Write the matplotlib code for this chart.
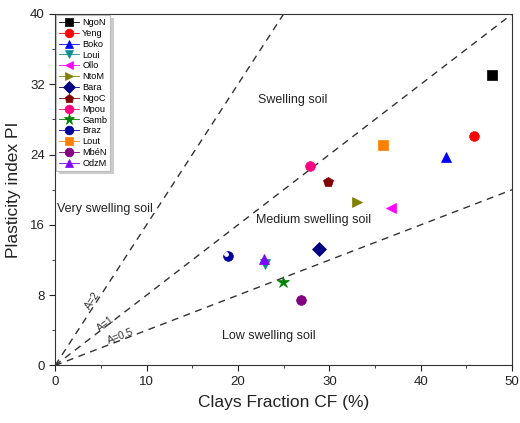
import matplotlib.pyplot as plt
from matplotlib.ticker import MultipleLocator

plt.rcParams['font.family'] = ['Liberation Sans', 'DejaVu Sans']

# soil samples: clay fraction (%) and plasticity index
names = ['NgoN', 'Yeng', 'Boko', 'Loui', 'Ollo', 'NtoM', 'Bara',
         'NgoC', 'Mpou', 'Gamb', 'Braz', 'Lout', 'MbéN', 'OdzM']
cf = [47.8, 45.8, 42.8, 23.0, 36.7, 33.0, 28.9, 29.9, 27.9, 24.9, 18.9, 35.9, 26.9, 22.9]
pi = [33.0, 26.1, 23.7, 11.5, 17.9, 18.6, 13.3, 20.9, 22.7, 9.5, 12.5, 25.1, 7.5, 12.1]
markers = ['s', 'o', '^', 'v', '<', '>', 'D', 'p', 'o', '*', 'o', 's', 'o', '^']
colors = ['black', 'red', 'blue', '#0f8f8f', '#ff00ff', '#808000', '#000080',
          '#800000', '#ff0080', '#008000', '#0000a0', '#ff8000', '#800080', '#8000ff']

# activity boundaries A = PI / CF (plotted ends)
act_x = [[0, 25], [0, 50], [0, 50]]
act_y = [[0, 40], [0, 40], [0, 20]]
act_lbl = ['A=2', 'A=1', 'A=0.5']

fig = plt.figure(figsize=(5.2, 4.23), dpi=100)
ax = fig.add_axes([0.106, 0.136, 0.879, 0.831])

for xs, ys in zip(act_x, act_y):
    ax.plot(xs, ys, color='#333333', linestyle=(0, (5, 4)), linewidth=1.0)

for n, x, y, m, c in zip(names, cf, pi, markers, colors):
    ms = 9 if m == '*' else 7
    ax.plot([x], [y], marker=m, color=c, markersize=ms, linewidth=0.6,
            markeredgewidth=0.5, label=n)
    if n == 'Braz':
        ax.plot([x - 0.2], [y + 0.2], marker='o', color='white', markersize=2.5)

# region and line labels
ax.text(26, 30.2, 'Swelling soil', fontsize=9, color='#222222', ha='center', va='center')
ax.text(28.3, 16.6, 'Medium swelling soil', fontsize=9, color='#222222', ha='center', va='center')
ax.text(23.4, 3.4, 'Low swelling soil', fontsize=9, color='#222222', ha='center', va='center')
ax.text(5.4, 17.8, 'Very swelling soil', fontsize=9, color='#222222', ha='center', va='center')
ax.text(4.1, 7.4, act_lbl[0], fontsize=7.5, color='#333333', rotation=57, ha='center', va='center')
ax.text(5.5, 4.7, act_lbl[1], fontsize=7.5, color='#333333', rotation=37, ha='center', va='center')
ax.text(7.2, 3.3, act_lbl[2], fontsize=7.5, color='#333333', rotation=21, ha='center', va='center')

ax.set_xlim(0, 50)
ax.set_ylim(0, 40)
ax.xaxis.set_major_locator(MultipleLocator(10))
ax.xaxis.set_minor_locator(MultipleLocator(5))
ax.yaxis.set_major_locator(MultipleLocator(8))
ax.yaxis.set_minor_locator(MultipleLocator(4))
ax.tick_params(which='both', direction='out', labelsize=9.5, colors='#222222')
ax.tick_params(which='major', length=4)
ax.tick_params(which='minor', length=2.5)
for s in ax.spines.values():
    s.set_color('#333333')
ax.set_xlabel('Clays Fraction CF (%)', fontsize=12.5, color='#222222', labelpad=5)
ax.set_ylabel('Plasticity index PI', fontsize=12.5, color='#222222', labelpad=6)

leg = ax.legend(loc='upper left', fontsize=6.6, handlelength=2.2, labelspacing=0.2,
                borderpad=0.3, handletextpad=0.3, borderaxespad=0.15, fancybox=False,
                markerscale=0.9, shadow={'color': '#cccccc', 'alpha': 1.0})
leg.get_frame().set_edgecolor('#bbbbbb')
leg.get_frame().set_linewidth(0.8)

plt.savefig('out.png')
